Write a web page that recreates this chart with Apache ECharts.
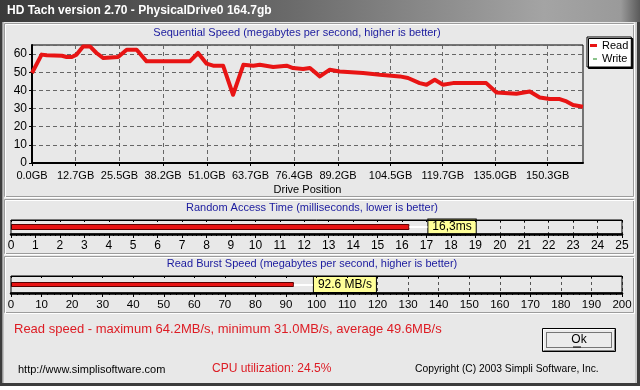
<!DOCTYPE html>
<html><head><meta charset="utf-8">
<script src="https://cdn.jsdelivr.net/npm/echarts@6.0.0/dist/echarts.min.js"></script>
<style>html,body{margin:0;padding:0;overflow:hidden;background:#fff}#c{width:640px;height:390px}</style>
</head><body><div id="c"></div>
<script>
// ---------- data ----------
const drivePositionGB = [0,2.8,4.3,8.7,10.1,11.6,13.0,14.9,16.9,18.8,20.8,25.1,27.6,30.5,33.4,46.0,48.4,50.9,52.8,55.7,58.6,61.6,64.5,66.4,70.3,74.2,76.1,79.0,81.0,83.9,86.8,89.7,96.5,101.4,107.2,109.6,113.0,115.0,117.4,119.8,122.7,132.4,135.4,141.2,145.1,148.0,150.9,153.8,155.8,157.7,160.6];
const readSpeedMBs = [49.6,59.7,59.3,59.1,58.4,58.4,59.7,64.2,64.2,60.6,57.8,58.4,62.4,62.4,56.0,56.0,60.6,54.7,53.6,53.6,37.6,54.1,53.6,54.1,52.9,53.6,52.3,51.8,52.3,47.7,51.4,50.4,49.6,48.6,47.7,46.8,44.0,43.1,45.9,43.1,44.0,44.0,38.8,38.1,39.4,36.1,35.2,35.2,33.9,31.9,31.0];
const writeSpeedMBs = [];
const driveTickGB = [0,12.7,25.5,38.2,51.0,63.7,76.4,89.2,104.5,119.7,135.0,150.3];
const driveAxisMaxGB = 160.6;
const speedAxisMax = 65;
const speedTickStep = 10;
const accessCategory = ['Random Access Time'];
const accessTimeMs = [16.3];
const accessAxisMax = 25;
const burstCategory = ['Read Burst Speed'];
const burstSpeedMBs = [92.6];
const burstAxisMax = 200;
const readMax = 64.2, readMin = 31.0, readAvg = 49.6;
const cpuUtilization = 24.5;

// ---------- styles ----------
const FONT = 'Liberation Sans, Arial, sans-serif';
const BG = '#e8e8e8';
const RED = '#e81414';
const BLUE = '#1a1a9e';
const TXTRED = '#dd1c24';

const g0 = {left:32, top:45, width:551, height:118};
const g1 = {left:11, top:220, width:611, height:14};
const g2 = {left:11, top:276, width:611, height:17};

const accLabelDist = 19, accLabelW = 47;
const burLabelDist = 20, burLabelW = 61;
const accPx = g1.width / accessAxisMax;
const burPx = g2.width / burstAxisMax;
const accCover = accessTimeMs[0] + (accLabelDist + accLabelW) / accPx;
const burCover = burstSpeedMBs[0] + (burLabelDist + burLabelW) / burPx;

function barAxes(gridIndex, max, interval, fontSize) {
  return [
    {
      type:'value', gridIndex, min:0, max, interval, position:'bottom', z:6,
      axisLine:{show:true, lineStyle:{color:'#000', width:2.5}},
      axisTick:{show:true, length:4, lineStyle:{color:'#000'}},
      minorTick:{show:true, splitNumber:5, length:2, lineStyle:{color:'#000'}},
      axisLabel:{show:true, color:'#000', fontSize, fontFamily:FONT, margin:6},
      splitLine:{show:false}
    },
    {
      type:'value', gridIndex, min:0, max, interval, position:'top', z:6,
      axisLine:{show:true, lineStyle:{color:'#000', width:1}},
      axisTick:{show:true, inside:true, length:2, lineStyle:{color:'#000'}},
      axisLabel:{show:false}, splitLine:{show:false}
    },
    {
      type:'value', gridIndex, min:0, max, interval, position:'bottom', z:0,
      axisLine:{show:false}, axisTick:{show:false}, axisLabel:{show:false},
      splitLine:{show:true, lineStyle:{color:'#555', type:[3,3], width:1}}
    }
  ];
}

function barSeries(xAxisIndex, yAxisIndex, cats, vals, barWidth, dist, fmt, cover, px) {
  return {
    type:'bar', xAxisIndex, yAxisIndex, barWidth,
    data: vals.map((v,i)=>({name:cats[i], value:v})),
    itemStyle:{color:RED, borderColor:'#5a0000', borderWidth:1},
    label:{show:true, position:'right', distance:dist, formatter:p=>fmt(p.value),
      backgroundColor:'#ffff99', borderColor:'#000', borderWidth:1, padding:[2,4,1,4],
      color:'#000', fontSize:12, lineHeight:12, fontFamily:FONT},
    markArea:{silent:true, itemStyle:{color:BG}, data:[[{xAxis:0},{xAxis:cover}]]},
    markLine:{silent:true, symbol:'none', label:{show:false},
      lineStyle:{color:'#fff', width:2, type:'solid'},
      data: vals.map((v,i)=>[{coord:[v, cats[i]]},{coord:[v + (dist-1)/px, cats[i]]}])}
  };
}

const chart = echarts.init(document.getElementById('c'), null, {renderer:'canvas', width:640, height:390});

const T = (x, y, text, fill, size, align, extra) => ({type:'text', x, y, z:10,
  style:{text, fill, font: (extra||'') + size + 'px ' + FONT, align: align||'left', verticalAlign:'middle'}});
const R = (x, y, w, h, fill, stroke, dash) => ({type:'rect', z:0, shape:{x, y, width:w, height:h},
  style:{fill: fill||'none', stroke: stroke||'none', lineWidth:1, lineDash: dash||null}});

const option = {
  animation:false,
  backgroundColor: BG,
  textStyle:{fontFamily:FONT},
  legend:{
    left:587, top:37, orient:'vertical', selectedMode:false,
    backgroundColor:'#fff', borderColor:'#000', borderWidth:1, borderRadius:0,
    padding:[3,3,3,3], itemGap:2, itemWidth:7, itemHeight:4,
    shadowColor:'#000', shadowOffsetX:1.5, shadowOffsetY:1.5, shadowBlur:0,
    textStyle:{fontSize:11, color:'#000', fontFamily:FONT},
    data:[
      {name:'Read', icon:'path://M0,0.5h7v3h-7z M0,0h0.01v0.01z M7,4h0.01v0.01z'},
      {name:'Write', icon:'path://M3,2h4v1h-4z M0,0h0.01v0.01z M7,4h0.01v0.01z'}
    ]
  },
  grid:[
    Object.assign({show:true, borderColor:'#000', borderWidth:1, backgroundColor:'transparent'}, g0),
    Object.assign({show:true, borderColor:'#000', borderWidth:1, backgroundColor:'transparent', z:5}, g1),
    Object.assign({show:true, borderColor:'#000', borderWidth:1, backgroundColor:'transparent', z:5}, g2)
  ],
  xAxis:[
    {
      type:'value', gridIndex:0, min:0, max:driveAxisMaxGB,
      name:'Drive Position', nameLocation:'middle', nameGap:21,
      nameTextStyle:{fontSize:11, color:'#000', fontFamily:FONT},
      axisLine:{show:true, onZero:false, lineStyle:{color:'#000', width:2}},
      axisTick:{show:true, length:3, customValues:driveTickGB, lineStyle:{color:'#000'}},
      axisLabel:{show:true, customValues:driveTickGB, formatter:v=>v.toFixed(1)+'GB', color:'#000', fontSize:11, margin:7, fontFamily:FONT},
      splitLine:{show:true, lineStyle:{color:'#666', type:[4,3], width:1}}
    },
    ...barAxes(1, accessAxisMax, 1, 12),
    ...barAxes(2, burstAxisMax, 10, 11.5)
  ],
  yAxis:[
    {
      type:'value', gridIndex:0, min:0, max:speedAxisMax, interval:speedTickStep,
      axisLine:{show:true, lineStyle:{color:'#000', width:2}},
      axisTick:{show:true, length:3, lineStyle:{color:'#000'}},
      axisLabel:{color:'#000', fontSize:12, margin:5, showMaxLabel:false, fontFamily:FONT},
      splitLine:{show:true, lineStyle:{color:'#666', type:[4,3], width:1}}
    },
    {type:'category', gridIndex:1, data:accessCategory, show:false},
    {type:'category', gridIndex:2, data:burstCategory, show:false}
  ],
  series:[
    {name:'Read', type:'line', xAxisIndex:0, yAxisIndex:0, symbol:'none',
     data: drivePositionGB.map((x,i)=>[x, readSpeedMBs[i]]),
     lineStyle:{color:RED, width:4, join:'round'}, itemStyle:{color:RED}},
    {name:'Write', type:'line', xAxisIndex:0, yAxisIndex:0, symbol:'none',
     data: writeSpeedMBs, lineStyle:{color:'#1a8a1a', width:1}, itemStyle:{color:'#1a8a1a'}},
    barSeries(1, 1, accessCategory, accessTimeMs, 6, accLabelDist, v=>v.toFixed(1).replace('.',',')+'ms', accCover, accPx),
    barSeries(4, 2, burstCategory, burstSpeedMBs, 5, burLabelDist, v=>v.toFixed(1)+' MB/s', burCover, burPx)
  ],
  graphic:[
    {type:'rect', z:0, shape:{x:0,y:0,width:640,height:22},
     style:{fill:{type:'linear',x:0,y:0,x2:1,y2:0,colorStops:[
       {offset:0,color:'#3a3a3a'},{offset:0.45,color:'#6a6a6a'},{offset:0.85,color:'#a4a4a4'},{offset:0.97,color:'#9a9a9a'},{offset:1,color:'#5a5a5a'}]}}},
    T(7, 11, 'HD Tach version 2.70 - PhysicalDrive0 164.7gb', '#ffffff', 12, 'left', 'bold '),
    R(0, 22, 2.5, 362, '#3c3c3c'),
    R(2.5, 22, 1, 362, '#9a9a9a'),
    R(637, 22, 3, 362, '#3c3c3c'),
    R(635.5, 22, 1, 362, '#b0b0b0'),
    R(0, 383, 640, 3, '#3c3c3c'),
    R(0, 386, 640, 4, '#ffffff'),
    R(4.5, 23.5, 629, 173, null, '#9c9c9c'), R(5.5, 24.5, 629, 173, null, '#ffffff'),
    R(4.5, 199.5, 629, 54, null, '#9c9c9c'), R(5.5, 200.5, 629, 54, null, '#ffffff'),
    R(4.5, 256.5, 629, 56, null, '#9c9c9c'), R(5.5, 257.5, 629, 56, null, '#ffffff'),
    T(297, 33, 'Sequential Speed (megabytes per second, higher is better)', BLUE, 11, 'center'),
    T(312, 208, 'Random Access Time (milliseconds, lower is better)', BLUE, 11, 'center'),
    T(312, 263.5, 'Read Burst Speed (megabytes per second, higher is better)', BLUE, 11, 'center'),
    T(14, 329, 'Read speed - maximum ' + readMax.toFixed(1) + 'MB/s, minimum ' + readMin.toFixed(1) + 'MB/s, average ' + readAvg.toFixed(1) + 'MB/s', TXTRED, 13, 'left'),
    T(212, 368.5, 'CPU utilization: ' + cpuUtilization.toFixed(1) + '%', TXTRED, 12, 'left'),
    T(18, 370, 'http://www.simplisoftware.com', '#000', 11, 'left'),
    T(415, 369, 'Copyright (C) 2003 Simpli Software, Inc.', '#000', 10.3, 'left'),
    R(542.5, 328.5, 73, 23, '#ececec', '#000000'),
    {type:'polyline', z:1, shape:{points:[[543.5,350],[543.5,329.5],[614,329.5]]}, style:{stroke:'#ffffff', fill:'none', lineWidth:1}},
    {type:'polyline', z:1, shape:{points:[[543.5,350.5],[614.5,350.5],[614.5,329.5]]}, style:{stroke:'#808080', fill:'none', lineWidth:1}},
    R(546.5, 332.5, 65, 15, null, '#000', [1,1]),
    T(579, 340, 'Ok', '#000', 12, 'center'),
    {type:'line', z:10, shape:{x1:573, y1:347, x2:581, y2:347}, style:{stroke:'#000', lineWidth:1}}
  ]
};
chart.setOption(option);
</script></body></html>
